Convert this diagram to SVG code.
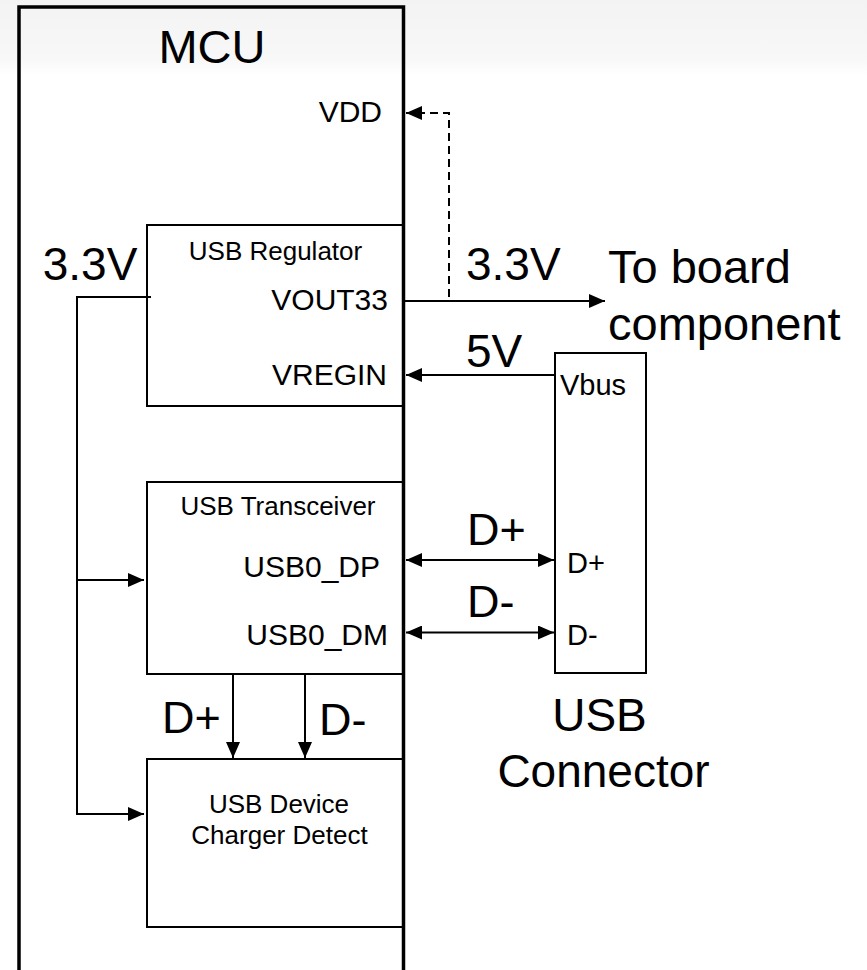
<svg xmlns="http://www.w3.org/2000/svg" width="867" height="970" viewBox="0 0 867 970">
<defs>
<linearGradient id="bg" x1="0" y1="0" x2="0" y2="1">
<stop offset="0" stop-color="#f3f3f3"/>
<stop offset="0.8" stop-color="#f8f8f8"/>
<stop offset="1" stop-color="#ffffff"/>
</linearGradient>
<marker id="ah" viewBox="0 0 16 14" refX="16" refY="7" markerWidth="16" markerHeight="14" markerUnits="userSpaceOnUse" orient="auto-start-reverse">
<path d="M0,0 L16,7 L0,14 z" fill="#000"/>
</marker>
</defs>
<style>
text{font-family:"Liberation Sans",Arial,sans-serif;fill:#000}
.box{fill:none;stroke:#000;stroke-width:2}
.wire{fill:none;stroke:#000;stroke-width:2}
.arr{marker-end:url(#ah)}
.dbl{marker-start:url(#ah);marker-end:url(#ah)}
.big{font-size:46px}
.pin{font-size:30px}
.ttl{font-size:26px;text-anchor:middle}
.end{text-anchor:end}
</style>
<rect x="0" y="0" width="867" height="970" fill="#fff"/>
<rect x="0" y="0" width="867" height="75" fill="url(#bg)"/>

<g id="mcu">
<path d="M19,975 V7 H403.5 V975" fill="none" stroke="#000" stroke-width="3.5"/>
<text x="212" y="63" font-size="47" text-anchor="middle">MCU</text>
<text x="382" y="122" class="pin end">VDD</text>
</g>

<g id="usb-regulator">
<rect x="147" y="225" width="256" height="181" class="box"/>
<text x="275.5" y="260" class="ttl">USB Regulator</text>
<text x="388" y="310" class="pin end">VOUT33</text>
<text x="387" y="385" class="pin end">VREGIN</text>
</g>

<g id="usb-transceiver">
<rect x="147" y="482" width="256" height="192" class="box"/>
<text x="278" y="515" class="ttl">USB Transceiver</text>
<text x="380" y="577" class="pin end">USB0_DP</text>
<text x="388" y="645" class="pin end">USB0_DM</text>
</g>

<g id="charger-detect">
<rect x="147" y="759" width="256" height="168" class="box"/>
<text x="279" y="813" class="ttl">USB Device</text>
<text x="279.5" y="844" class="ttl">Charger Detect</text>
</g>

<g id="usb-connector">
<rect x="555" y="353" width="91" height="320" class="box"/>
<text x="560" y="395" font-size="29">Vbus</text>
<text x="567" y="573" font-size="29">D+</text>
<text x="567" y="645" font-size="29">D-</text>
<text x="599.5" y="731" class="big" text-anchor="middle">USB</text>
<text x="603.5" y="787" class="big" text-anchor="middle">Connector</text>
</g>

<g id="board-component">
<text x="608" y="283" font-size="47">To board</text>
<text x="608" y="340" font-size="47">component</text>
</g>

<g id="connectors">
<path d="M449,297 V113 H406" class="wire arr" stroke-dasharray="8 5"/>
<path d="M405,301 H605" class="wire arr"/>
<path d="M555,375 H406" class="wire arr"/>
<path d="M406,560 H554" class="wire dbl"/>
<path d="M406,632.5 H554" class="wire dbl"/>
<path d="M151,297 H77 V814 H144" class="wire arr"/>
<path d="M77,580 H144" class="wire arr"/>
<path d="M233,674 V758" class="wire arr"/>
<path d="M305,674 V758" class="wire arr"/>
<text x="42.7" y="280" class="big">3.3V</text>
<text x="466" y="280" class="big">3.3V</text>
<text x="466" y="367" class="big">5V</text>
<text x="467" y="545" font-size="45">D+</text>
<text x="467" y="617" font-size="45">D-</text>
<text x="162" y="733" font-size="45">D+</text>
<text x="319" y="735" font-size="45">D-</text>
</g>
</svg>
